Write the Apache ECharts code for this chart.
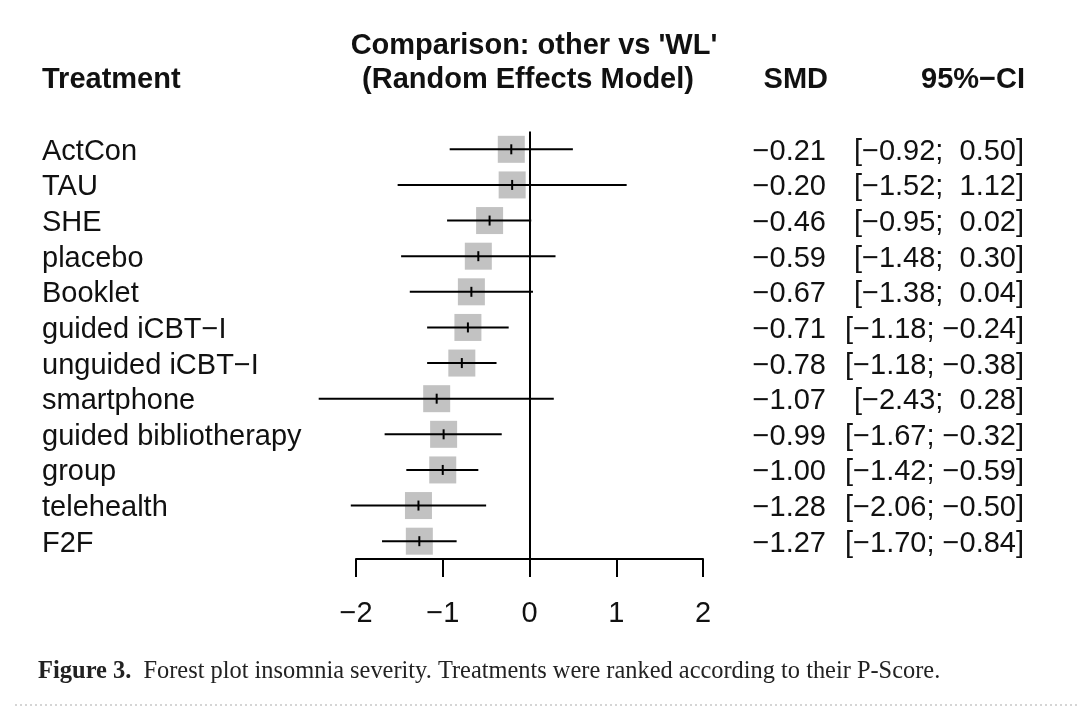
<!DOCTYPE html>
<html>
<head>
<meta charset="utf-8">
<script src="https://cdn.jsdelivr.net/npm/echarts@6/dist/echarts.min.js"></script>
<style>
  html, body { margin: 0; padding: 0; background: #fff; }
  #chart { width: 1077px; height: 708px; }
</style>
</head>
<body>
<div id="chart"></div>
<script>
// ---- data ----
const treatments = ['ActCon', 'TAU', 'SHE', 'placebo', 'Booklet', 'guided iCBT\u2212I',
  'unguided iCBT\u2212I', 'smartphone', 'guided bibliotherapy', 'group', 'telehealth', 'F2F'];
const smd   = [-0.21, -0.20, -0.46, -0.59, -0.67, -0.71, -0.78, -1.07, -0.99, -1.00, -1.28, -1.27];
const ciLow = [-0.92, -1.52, -0.95, -1.48, -1.38, -1.18, -1.18, -2.43, -1.67, -1.42, -2.06, -1.70];
const ciHigh= [ 0.50,  1.12,  0.02,  0.30,  0.04, -0.24, -0.38,  0.28, -0.32, -0.59, -0.50, -0.84];
const xTicks = [-2, -1, 0, 1, 2];

const FONT = '"Liberation Sans", Arial, Helvetica, sans-serif';
const SERIF = '"Liberation Serif", "DejaVu Serif", serif';
const FS = 29;

function fmt(v) {
  const s = Math.abs(v).toFixed(2);
  return v < 0 ? '\u2212' + s : s;
}
function fmtCI(lo, hi) {
  const a = lo < 0 ? fmt(lo) : ' ' + fmt(lo);
  const b = hi < 0 ? fmt(hi) : ' ' + fmt(hi);
  return '[' + a + '; ' + b + ']';
}
const smdText = {}, ciText = {};
treatments.forEach((t, i) => { smdText[t] = fmt(smd[i]); ciText[t] = fmtCI(ciLow[i], ciHigh[i]); });

const forestData = treatments.map((t, i) => [i, smd[i], ciLow[i], ciHigh[i]]);

const chart = echarts.init(document.getElementById('chart'), null, { renderer: 'canvas' });

const hiddenAxis = {
  axisLine: { show: false }, axisTick: { show: false }, splitLine: { show: false }
};
const richRow = { r: { fontSize: FS, color: '#111', fontFamily: FONT, padding: [5, 0, 0, 0] } };
const rowLabel = { interval: 0, fontSize: FS, color: '#111', fontFamily: FONT, rich: richRow };

chart.setOption({
  animation: false,
  backgroundColor: '#fff',
  grid: { left: 356, right: 374, top: 131.5, bottom: 149, containLabel: false },
  xAxis: {
    type: 'value', min: -2, max: 2, interval: 1,
    axisLine: { show: true, lineStyle: { color: '#000', width: 2 } },
    axisTick: { show: true, inside: false, length: 18, lineStyle: { color: '#000', width: 2 } },
    splitLine: { show: false },
    axisLabel: {
      margin: 40, fontSize: FS, color: '#111', fontFamily: FONT,
      formatter: v => xTicks.includes(v) ? (v < 0 ? '\u2212' + Math.abs(v) : String(v)) : ''
    }
  },
  yAxis: [
    Object.assign({
      type: 'category', data: treatments, inverse: true, position: 'left',
      axisLabel: Object.assign({ align: 'left', margin: 314, formatter: v => '{r|' + v + '}' }, rowLabel)
    }, hiddenAxis),
    Object.assign({
      type: 'category', data: treatments, inverse: true, position: 'right',
      axisLabel: Object.assign({ align: 'right', margin: 123, formatter: v => '{r|' + smdText[v] + '}' }, rowLabel)
    }, hiddenAxis),
    Object.assign({
      type: 'category', data: treatments, inverse: true, position: 'right',
      axisLabel: Object.assign({ align: 'right', margin: 321, formatter: v => '{r|' + ciText[v] + '}' }, rowLabel)
    }, hiddenAxis)
  ],
  series: [{
    type: 'custom',
    clip: false,
    data: forestData,
    encode: { x: [1, 2, 3], y: 0 },
    renderItem: function (params, api) {
      const y = api.value(0);
      const c = api.coord([api.value(1), y]);
      const l = api.coord([api.value(2), y]);
      const h = api.coord([api.value(3), y]);
      const s = 27;
      return {
        type: 'group',
        children: [
          { type: 'rect', shape: { x: c[0] - s / 2, y: c[1] - s / 2, width: s, height: s },
            style: { fill: '#c2c2c2' } },
          { type: 'line', shape: { x1: l[0], y1: l[1], x2: h[0], y2: h[1] },
            style: { stroke: '#000', lineWidth: 2 } },
          { type: 'line', shape: { x1: c[0], y1: c[1] - 5, x2: c[0], y2: c[1] + 5 },
            style: { stroke: '#000', lineWidth: 2 } }
        ]
      };
    },
    markLine: {
      silent: true, symbol: 'none', label: { show: false },
      lineStyle: { color: '#000', width: 2, type: 'solid' },
      data: [{ xAxis: 0 }]
    },
    z: 3
  }],
  graphic: [
    { type: 'text', x: 42, y: 80, style: { text: 'Treatment', font: 'bold 29px ' + FONT, fill: '#111', verticalAlign: 'middle' } },
    { type: 'text', x: 534, y: 46, style: { text: "Comparison: other vs 'WL'", font: 'bold 29px ' + FONT, fill: '#111', align: 'center', verticalAlign: 'middle' } },
    { type: 'text', x: 528, y: 80, style: { text: '(Random Effects Model)', font: 'bold 29px ' + FONT, fill: '#111', align: 'center', verticalAlign: 'middle' } },
    { type: 'text', x: 828, y: 80, style: { text: 'SMD', font: 'bold 29px ' + FONT, fill: '#111', align: 'right', verticalAlign: 'middle' } },
    { type: 'text', x: 1025, y: 80, style: { text: '95%\u2212CI', font: 'bold 29px ' + FONT, fill: '#111', align: 'right', verticalAlign: 'middle' } },
    { type: 'text', x: 38, y: 672, style: {
        text: '{b|Figure 3.}{n|Forest plot insomnia severity. Treatments were ranked according to their P-Score.}',
        verticalAlign: 'middle',
        rich: {
          b: { font: 'bold 24.5px ' + SERIF, fill: '#222', padding: [0, 12, 0, 0] },
          n: { font: '24.4px ' + SERIF, fill: '#222' }
        } } },
    { type: 'line', shape: { x1: 15, y1: 705, x2: 1077, y2: 705 },
      style: { stroke: '#c8c8c8', lineWidth: 1.5, lineDash: [2, 3] } }
  ]
});
</script>
</body>
</html>
